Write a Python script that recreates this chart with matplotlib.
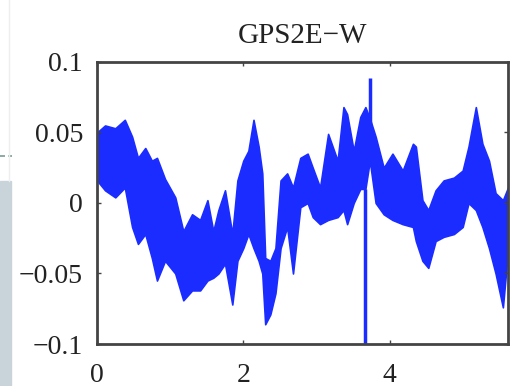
import matplotlib
matplotlib.use("Agg")
import matplotlib.pyplot as plt
import numpy as np
from matplotlib.patches import Rectangle
from matplotlib.lines import Line2D

# envelope of the GPS2E-W record
t = [0.00, 0.11, 0.25, 0.38, 0.48, 0.56, 0.66, 0.75, 0.82, 0.93,
     1.07, 1.18, 1.30, 1.41, 1.51, 1.59, 1.66, 1.75, 1.85, 1.92,
     2.00, 2.07, 2.14, 2.21, 2.26, 2.30, 2.37, 2.44, 2.51, 2.60,
     2.68, 2.78, 2.88, 2.95, 3.05, 3.16, 3.29, 3.37, 3.42, 3.51,
     3.60, 3.67, 3.73, 3.81, 3.92, 4.04, 4.18, 4.32, 4.36, 4.45,
     4.53, 4.63, 4.74, 4.88, 5.00, 5.08, 5.18, 5.27, 5.36, 5.45,
     5.55, 5.62]
upper = [0.050, 0.055, 0.053, 0.059, 0.047, 0.032, 0.039, 0.030, 0.032, 0.017,
         0.004, -0.020, -0.008, -0.012, 0.002, -0.020, -0.005, 0.009, -0.022, 0.016,
         0.030, 0.037, 0.059, 0.040, 0.021, -0.039, -0.041, -0.032, 0.016, 0.021,
         0.011, 0.032, 0.035, 0.025, 0.011, 0.049, 0.030, 0.068, 0.063, 0.037,
         0.061, 0.068, 0.060, 0.047, 0.025, 0.035, 0.023, 0.042, 0.040, 0.002,
         -0.005, 0.009, 0.016, 0.018, 0.023, 0.040, 0.068, 0.042, 0.030, 0.007,
         0.002, 0.011]
lower = [0.016, 0.009, 0.004, 0.011, -0.017, -0.029, -0.022, -0.039, -0.055, -0.041,
         -0.050, -0.069, -0.062, -0.062, -0.055, -0.053, -0.050, -0.043, -0.072, -0.041,
         -0.032, -0.022, -0.032, -0.041, -0.050, -0.086, -0.079, -0.064, -0.032, -0.017,
         -0.050, -0.003, 0.000, -0.010, -0.015, -0.012, -0.010, -0.005, -0.015, 0.000,
         0.010, 0.010, 0.030, 0.000, -0.008, -0.012, -0.015, -0.017, -0.027, -0.041,
         -0.046, -0.027, -0.024, -0.022, -0.017, 0.000, -0.005, -0.017, -0.032, -0.050,
         -0.074, -0.034]

# isolated spikes
spike_t = [3.67, 3.73]
spike_lo = [-0.100, 0.030]
spike_hi = [0.010, 0.089]

blue = "#1a2cff"
plt.rcParams["font.family"] = ["Liberation Serif", "DejaVu Serif"]

fig = plt.figure(figsize=(5.13, 3.86), dpi=100)
ax = fig.add_axes([97 / 513, 1 - 344 / 386, 411 / 513, 282 / 386])

ax.fill_between(t, lower, upper, color=blue, linewidth=1.2, edgecolor=blue)
ax.vlines(spike_t, spike_lo, spike_hi, color=blue, linewidth=2.5)

ax.set_xlim(0, 5.62)
ax.set_ylim(-0.1, 0.1)
ax.set_xticks([0, 2, 4])
ax.set_xticklabels(["0", "2", "4"])
ax.set_yticks([-0.1, -0.05, 0, 0.05, 0.1])
ax.set_yticklabels(["\u22120.1", "\u22120.05", "0", "0.05", "0.1"])
ax.tick_params(direction="in", length=3, width=1, colors="#444",
               labelcolor="#222", labelsize=20, top=True, right=True)
ax.tick_params(axis="x", pad=14)
ax.tick_params(axis="y", pad=10)
for s in ax.spines.values():
    s.set_linewidth(2)
    s.set_color("#444")
ax.set_title("GPS2E\u2212W", fontsize=21, color="#222", pad=14)

# screenshot leftovers at the left edge
fig.patches.append(Rectangle((0, 0), 11 / 513, 1 - 181 / 386,
                             transform=fig.transFigure, color="#c8d3da"))
fig.lines.append(Line2D([0, 12 / 513], [1 - 156 / 386] * 2, transform=fig.transFigure,
                        color="#7a9a9a", linewidth=1.2, linestyle=(0, (3, 2))))
fig.lines.append(Line2D([9 / 513] * 2, [1 - 181 / 386, 1], transform=fig.transFigure,
                        color="#eeeeee", linewidth=1))

fig.savefig("out.png", dpi=100)
